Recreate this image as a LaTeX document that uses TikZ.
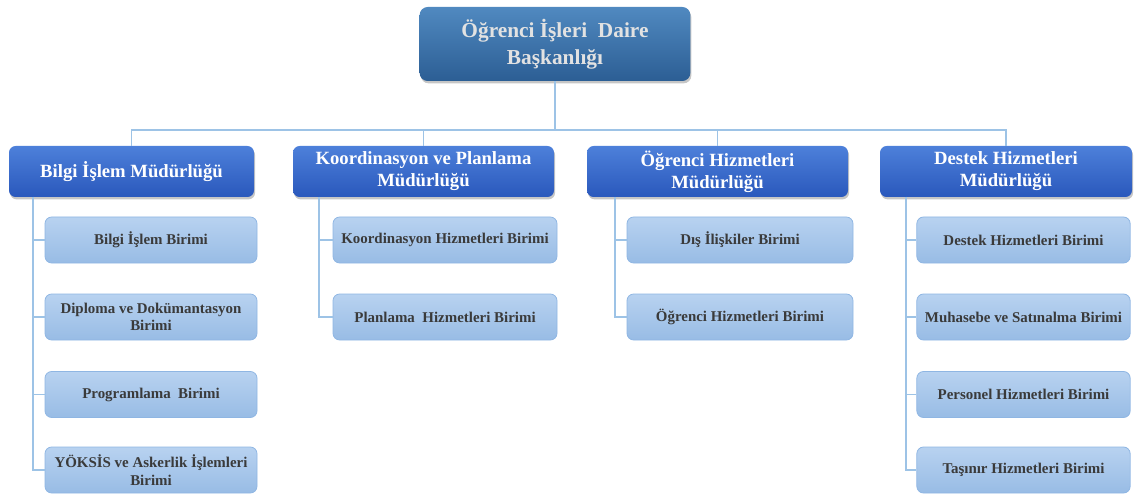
\documentclass[tikz,border=0pt]{standalone}
\usepackage{fontspec}
\setmainfont{Liberation Serif}
\usetikzlibrary{shadows}
\definecolor{topA}{HTML}{5089C0}
\definecolor{topB}{HTML}{2C5E94}
\definecolor{midA}{HTML}{4D80DA}
\definecolor{midB}{HTML}{2A58BC}
\definecolor{leafA}{HTML}{B8D2F0}
\definecolor{leafB}{HTML}{98BCE5}
\definecolor{leafD}{HTML}{8FB6E3}
\definecolor{lineC}{HTML}{9DC3E6}
\definecolor{leafT}{HTML}{3A3A3A}
\definecolor{topT}{HTML}{E2E2E2}
\tikzset{
  headbox/.style={rectangle, rounded corners=6pt, top color=topA, bottom color=topB, draw=none,
    text=topT, font=\fontsize{16}{20}\selectfont\bfseries, align=center,
    drop shadow={opacity=0.45, shadow xshift=0.8pt, shadow yshift=-1.8pt}},
  midbox/.style={rectangle, rounded corners=5pt, top color=midA, bottom color=midB, draw=none,
    text=white, font=\fontsize{14}{16.5}\selectfont\bfseries, align=center,
    minimum height=38.25pt, inner sep=1pt,
    drop shadow={opacity=0.45, shadow xshift=0.8pt, shadow yshift=-1.8pt}},
  leafbox/.style={rectangle, rounded corners=5pt, top color=leafA, bottom color=leafB, draw=leafD, line width=0.6pt,
    text=leafT, font=\fontsize{11.2}{13}\selectfont\bfseries, align=center,
    minimum height=34.5pt, inner sep=1pt},
  conn/.style={draw=lineC, line width=1pt}
}
\begin{document}
\begin{tikzpicture}[x=0.75pt,y=-0.75pt]
\useasboundingbox (0,0) rectangle (1134,495);
% head
\node[headbox, minimum width=203pt, minimum height=55.5pt] (top) at (555,44) {Öğrenci İşleri\ \ Daire\\Başkanlığı};
% level 2
\node[midbox, minimum width=183.75pt] (m1) at (131.5,171.5) {Bilgi İşlem Müdürlüğü};
\node[midbox, minimum width=195.75pt] (m2) at (423.5,171.5) {Koordinasyon ve Planlama\\Müdürlüğü};
\node[midbox, minimum width=195.75pt] (m3) at (717.5,171.5) {Öğrenci Hizmetleri\\Müdürlüğü};
\node[midbox, minimum width=189pt] (m4) at (1006,171.5) {Destek Hizmetleri\\Müdürlüğü};
% bus
\coordinate (bus) at (0,130);
\draw[conn] (top.south) -- (top.south |- bus);
\draw[conn] (m1.north) -- (m1.north |- bus) -- (m4.north |- bus) -- (m4.north);
\draw[conn] (m2.north) -- (m2.north |- bus);
\draw[conn] (m3.north) -- (m3.north |- bus);
% leaves column 1
\node[leafbox, minimum width=159pt] (a1) at (151,240) {Bilgi İşlem Birimi};
\node[leafbox, minimum width=159pt] (a2) at (151,317) {Diploma ve Dokümantasyon\\Birimi};
\node[leafbox, minimum width=159pt] (a3) at (151,394.5) {Programlama\ \ Birimi};
\node[leafbox, minimum width=159pt] (a4) at (151,470) {YÖKSİS ve Askerlik İşlemleri\\Birimi};
% column 2
\node[leafbox, minimum width=168pt] (b1) at (445,240) {Koordinasyon Hizmetleri Birimi};
\node[leafbox, minimum width=168pt] (b2) at (445,317) {Planlama\ \ Hizmetleri Birimi};
% column 3
\node[leafbox, minimum width=169.5pt] (c1) at (740,240) {Dış İlişkiler Birimi};
\node[leafbox, minimum width=169.5pt] (c2) at (740,317) {Öğrenci Hizmetleri Birimi};
% column 4
\node[leafbox, minimum width=160pt] (d1) at (1023.5,240) {Destek Hizmetleri Birimi};
\node[leafbox, minimum width=160pt] (d2) at (1023.5,317) {Muhasebe ve Satınalma Birimi};
\node[leafbox, minimum width=160pt] (d3) at (1023.5,394.5) {Personel Hizmetleri Birimi};
\node[leafbox, minimum width=160pt] (d4) at (1023.5,470) {Taşınır Hizmetleri Birimi};
% spines
\coordinate (s1) at (33,197);
\coordinate (s2) at (319,197);
\coordinate (s3) at (615,197);
\coordinate (s4) at (906,197);
\draw[conn] (s1) |- (a4.west);
\draw[conn] (s1) |- (a1.west);
\draw[conn] (s1) |- (a2.west);
\draw[conn] (s1) |- (a3.west);
\draw[conn] (s2) |- (b2.west);
\draw[conn] (s2) |- (b1.west);
\draw[conn] (s3) |- (c2.west);
\draw[conn] (s3) |- (c1.west);
\draw[conn] (s4) |- (d4.west);
\draw[conn] (s4) |- (d1.west);
\draw[conn] (s4) |- (d2.west);
\draw[conn] (s4) |- (d3.west);
\end{tikzpicture}
\end{document}
